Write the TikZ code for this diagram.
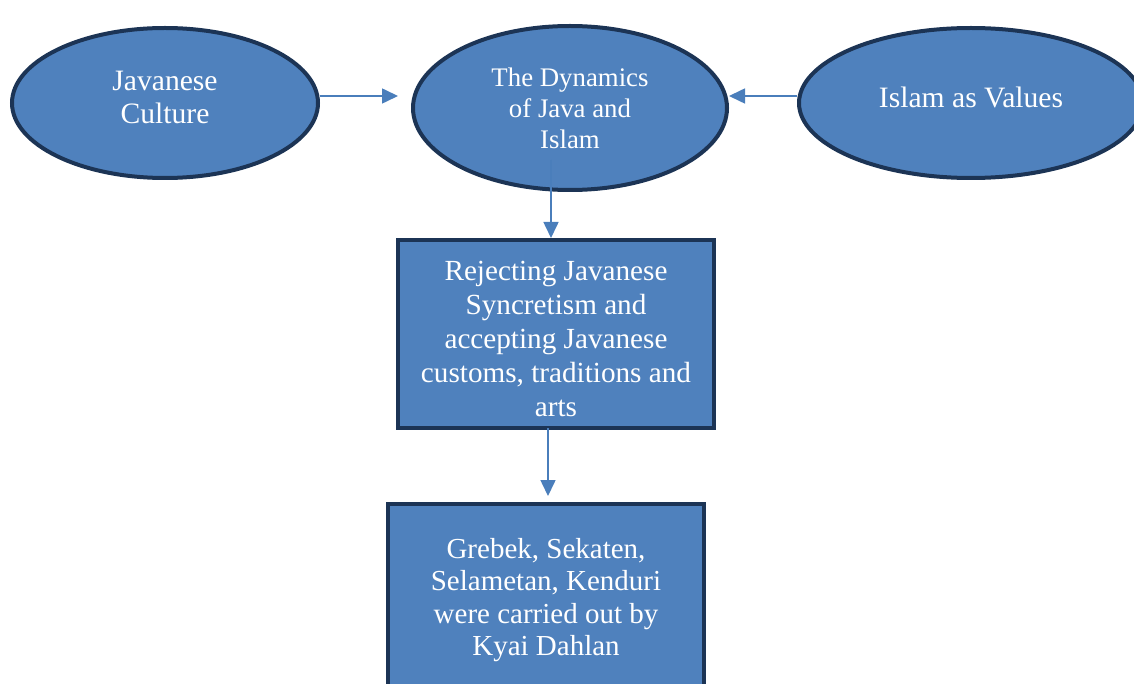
\documentclass[tikz,border=0pt]{standalone}
\usepackage{fontspec}
\setmainfont{Liberation Serif}
\usetikzlibrary{positioning, arrows.meta, shapes.geometric}
\definecolor{boxfill}{HTML}{4F81BD}
\definecolor{boxline}{HTML}{1C3455}
\definecolor{arrowcol}{HTML}{4A7EBB}

\begin{document}
\begin{tikzpicture}[x=0.5pt,y=-0.5pt,>={Triangle[length=8pt,width=7.5pt]},
    shape node/.style={draw=boxline,fill=boxfill,line width=2pt,text=white,align=center,inner sep=0pt},
    oval node/.style={shape node,ellipse,font=\fontsize{14.8}{16.5}\selectfont},
    rect node/.style={shape node,rectangle,font=\fontsize{14.6}{17}\selectfont},
    link/.style={->,color=arrowcol,line width=0.8pt}]
\useasboundingbox (0,0) rectangle (1134,684);

\node[oval node,minimum width=153pt,minimum height=75pt]  (culture)  at (165,103)  {Javanese\\Culture\\[-11pt]\mbox{}};
\node[oval node,minimum width=157pt,minimum height=82pt,font=\fontsize{13.4}{15.5}\selectfont]
                                                          (dynamics) at (570,108)  {The Dynamics\\of Java and\\Islam};
\node[oval node,minimum width=172pt,minimum height=75pt]  (islam)    at (971,103)  {Islam as Values\\[-11pt]\mbox{}};
\node[rect node,minimum width=158pt,minimum height=94pt]  (reject)   at (556,334)
    {\mbox{}\\[-2pt]Rejecting Javanese\\Syncretism and\\accepting Javanese\\customs, traditions and\\arts};
\node[rect node,minimum width=158pt,minimum height=100pt,anchor=north,font=\fontsize{14.5}{16.2}\selectfont] (grebek) at (546,502)
    {Grebek, Sekaten,\\Selametan, Kenduri\\were carried out by\\Kyai Dahlan\\[-9pt]\mbox{}};

\coordinate (culturetip) at (398,96);
\coordinate (islamtip)   at (729,96);
\coordinate (dyntop)     at (551,160);
\coordinate (rejectlow)  at (548,428);
\coordinate (grebektip)  at (548,496);
\draw[link] (culture.east |- culturetip) -- (culturetip);
\draw[link] (islam.west |- islamtip) -- (islamtip);
\draw[link] (dyntop) -- (dyntop |- reject.north);
\draw[link] (rejectlow) -- (grebektip);
\end{tikzpicture}
\end{document}
